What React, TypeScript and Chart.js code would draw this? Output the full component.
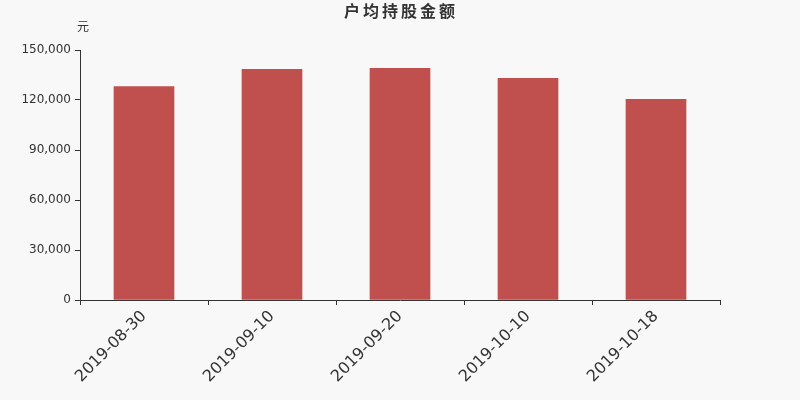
import React, { useEffect, useRef } from "react";
import { Chart, registerables } from "chart.js";

Chart.register(...registerables);

const categories = ["2019-08-30", "2019-09-10", "2019-09-20", "2019-10-10", "2019-10-18"];
const values = [128000, 138400, 139000, 133000, 120400];
const yTicks = [0, 30000, 60000, 90000, 120000, 150000];
const titleText = "户均持股金额";
const unitText = "元";

const FONT = "'DejaVu Sans', 'Noto Sans CJK SC', sans-serif";

export default function App() {
  const ref = useRef<HTMLCanvasElement | null>(null);
  useEffect(() => {
    document.body.style.margin = "0";
    const canvas = ref.current!;
    const overlay = {
      id: "overlay",
      beforeDraw(chart: any) {
        const ctx = chart.ctx;
        ctx.save();
        ctx.fillStyle = "#f8f8f8";
        ctx.fillRect(0, 0, chart.width, chart.height);
        ctx.restore();
      },
      afterDraw(chart: any) {
        const ctx = chart.ctx;
        ctx.save();
        ctx.fillStyle = "#333333";
        ctx.font = `bold 16px ${FONT}`;
        (ctx as any).letterSpacing = "3px";
        ctx.textAlign = "center";
        ctx.textBaseline = "middle";
        ctx.fillText(titleText, 401, 13);
        (ctx as any).letterSpacing = "0px";
        ctx.font = `12px ${FONT}`;
        ctx.fillText(unitText, 83, 28);
        ctx.restore();
      },
    };
    const chart = new Chart(canvas, {
      type: "bar",
      data: {
        labels: categories,
        datasets: [
          {
            data: values,
            backgroundColor: "#c0504e",
            barThickness: 60,
          },
        ],
      },
      options: {
        animation: false,
        responsive: false,
        maintainAspectRatio: false,
        layout: { padding: { top: 50, right: 80, left: 0, bottom: 0 } },
        plugins: { legend: { display: false }, title: { display: false }, tooltip: { enabled: false } },
        scales: {
          x: {
            offset: true,
            grid: { offset: true, drawOnChartArea: false, drawTicks: true, tickLength: 5, color: "#333333" },
            border: { display: true, color: "#333333" },
            ticks: {
              minRotation: 45,
              maxRotation: 45,
              color: "#333333",
              font: { family: FONT, size: 16 },
              padding: 2,
            },
            afterFit(scale: any) {
              scale.height = 100;
            },
          },
          y: {
            min: 0,
            max: 150000,
            afterBuildTicks(scale: any) {
              scale.ticks = yTicks.map((v) => ({ value: v }));
            },
            grid: { drawOnChartArea: false, drawTicks: true, tickLength: 5, color: "#333333" },
            border: { display: true, color: "#333333" },
            ticks: {
              color: "#333333",
              font: { family: FONT, size: 12 },
              padding: 4,
              callback: (v: any) => Number(v).toLocaleString("en-US"),
            },
            afterFit(scale: any) {
              scale.width = 80;
            },
          },
        },
      },
      plugins: [overlay],
    });
    return () => chart.destroy();
  }, []);
  return (
    <div style={{ position: "absolute", left: 0, top: 0, width: 800, height: 400 }}>
      <canvas ref={ref} width={800} height={400} style={{ width: 800, height: 400 }} />
    </div>
  );
}
